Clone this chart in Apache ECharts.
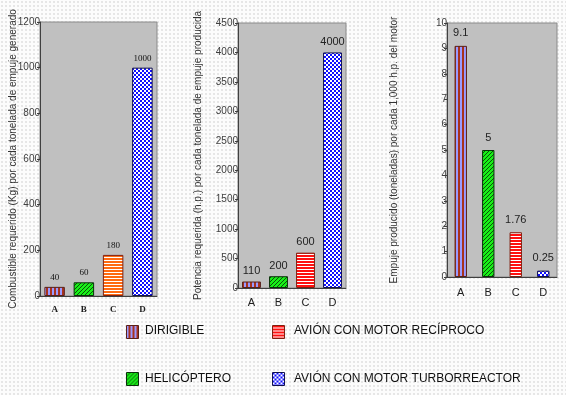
<!DOCTYPE html>
<html><head><meta charset="utf-8">
<script src="https://cdn.jsdelivr.net/npm/echarts@6/dist/echarts.min.js"></script>
<style>
html,body{margin:0;padding:0;background:#fff;}
#c{width:566px;height:395px;background-color:#fcfcfc;background-image:radial-gradient(circle,#dadada 0.6px,transparent 0.9px);background-size:4px 4px;}
</style></head><body><div id="c"></div><script>
const categories = ['A', 'B', 'C', 'D'];
const fuelValues = [40, 60, 180, 1000];
const powerValues = [110, 200, 600, 4000];
const thrustValues = [9.1, 5, 1.76, 0.25];
const fuelTitle = 'Combustible requerido (Kg) por cada tonelada de empuje generado';
const powerTitle = 'Potencia requerida (h.p.) por cada tonelada de empuje producida';
const thrustTitle = 'Empuje producido (toneladas) por cada 1,000 h.p. del motor';
const legendNames = ['DIRIGIBLE', 'AVIÓN CON MOTOR RECÍPROCO', 'HELICÓPTERO', 'AVIÓN CON MOTOR TURBORREACTOR'];

function pat(w, h, draw) {
  const c = document.createElement('canvas'); c.width = w; c.height = h;
  const g = c.getContext('2d'); draw(g);
  return { image: c, repeat: 'repeat' };
}
const patA = pat(4, 1, g => { g.fillStyle = '#9a9aff'; g.fillRect(0, 0, 4, 1); g.fillStyle = '#a8321e'; g.fillRect(2, 0, 2, 1); });
const patB = pat(4, 4, g => { g.fillStyle = '#18f018'; g.fillRect(0, 0, 4, 4); g.fillStyle = '#0a500a';
  for (let i = 0; i < 4; i++) { g.fillRect(3 - i, i, 1, 1); } });
const stripes = col => pat(1, 3, g => { g.fillStyle = '#ffffff'; g.fillRect(0, 0, 1, 3); g.fillStyle = col; g.fillRect(0, 0, 1, 2); });
const patCo = stripes('#ff6a10');
const patCr = stripes('#ff1010');
const patD = pat(4, 4, g => { g.fillStyle = '#ffffff'; g.fillRect(0, 0, 4, 4); g.fillStyle = '#1010ff'; g.fillRect(0, 0, 2, 2); g.fillRect(2, 2, 2, 2); });

const borders = ['#5a2018', '#0a300a', '#802010', '#101050'];

function items(vals, pats, bcs) {
  return vals.map((v, i) => ({ value: v, itemStyle: { color: pats[i], borderColor: bcs[i], borderWidth: 1 } }));
}

const chart = echarts.init(document.getElementById('c'));
const sans = 'Liberation Sans, Arial, sans-serif';
const serif = 'Liberation Serif, Times New Roman, serif';
const grids = [
  { left: 40, top: 22, width: 117, height: 274 },
  { left: 238, top: 23, width: 108, height: 265 },
  { left: 447, top: 23, width: 110, height: 254 }
].map(g => Object.assign(g, { show: true, backgroundColor: '#c0c0c0', borderColor: '#8a8a8a', borderWidth: 1 }));

function xAx(i, font, size, bold, margin) {
  return { type: 'category', gridIndex: i, data: categories,
    axisLine: { lineStyle: { color: '#404040' } },
    axisTick: { length: 3, lineStyle: { color: '#404040' } },
    axisLabel: { color: '#202020', fontFamily: font, fontSize: size, fontWeight: bold ? 'bold' : 'normal', margin: margin } };
}
function yAx(i, max, interval, name, gap) {
  return { type: 'value', gridIndex: i, min: 0, max: max, interval: interval,
    name: name, nameLocation: 'middle', nameGap: gap, nameMoveOverlap: false,
    nameTextStyle: { color: '#333', fontFamily: sans, fontSize: 10 },
    axisLine: { show: true, lineStyle: { color: '#404040' } },
    axisTick: { show: true, length: 3, lineStyle: { color: '#404040' } },
    splitLine: { show: false },
    axisLabel: { color: '#404040', fontFamily: sans, fontSize: 10, margin: 0, formatter: v => String(v) } };
}

const legendPos = [[126, 325, 145, 332], [272, 325, 294, 332], [126, 372, 145, 380], [272, 372, 294, 380]];
const legendPats = [patA, patCr, patB, patD];
const legendBorders = [borders[0], borders[2], borders[1], borders[3]];
const graphic = [];
legendNames.forEach((n, i) => {
  const p = legendPos[i];
  graphic.push({ type: 'rect', left: p[0], top: p[1], shape: { width: 12, height: 13 },
    style: { fill: legendPats[i], stroke: legendBorders[i], lineWidth: 1 } });
  graphic.push({ type: 'text', left: p[2], top: p[3] - 7,
    style: { text: n, fill: '#111', font: '12px ' + sans } });
});

chart.setOption({
  animation: false,
  grid: grids,
  xAxis: [xAx(0, serif, 9, true, 9), xAx(1, sans, 11, false, 9), xAx(2, sans, 11, false, 10)],
  yAxis: [yAx(0, 1200, 200, fuelTitle, 22), yAx(1, 4500, 500, powerTitle, 35), yAx(2, 10, 1, thrustTitle, 48)],
  graphic: graphic,
  series: [
    { type: 'bar', xAxisIndex: 0, yAxisIndex: 0, barCategoryGap: '30%',
      data: items(fuelValues, [patA, patB, patCo, patD], borders),
      label: { show: true, position: 'top', distance: 5, color: '#111', fontFamily: serif, fontSize: 9 } },
    { type: 'bar', xAxisIndex: 1, yAxisIndex: 1, barCategoryGap: '30%',
      data: items(powerValues, [patA, patB, patCr, patD], borders),
      label: { show: true, position: 'top', distance: 5, color: '#222', fontFamily: sans, fontSize: 11 } },
    { type: 'bar', xAxisIndex: 2, yAxisIndex: 2, barCategoryGap: '55%',
      data: items(thrustValues, [patA, patB, patCr, patD], borders),
      label: { show: true, position: 'top', distance: 7, color: '#222', fontFamily: sans, fontSize: 11 } }
  ]
});
</script></body></html>
